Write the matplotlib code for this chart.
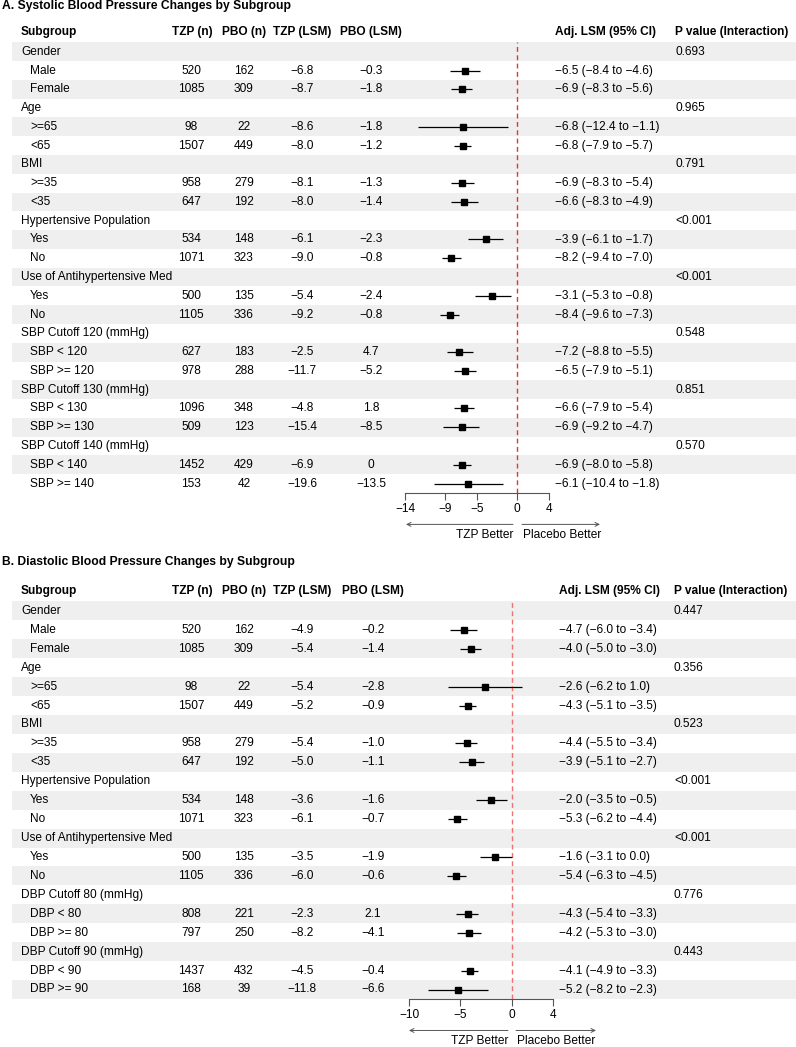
import matplotlib
matplotlib.use("Agg")
import matplotlib.pyplot as plt
from matplotlib.patches import Rectangle

plt.rcParams['font.family'] = ['Liberation Sans', 'DejaVu Sans']

M = "\u2212"

# ---------------- Panel A data ----------------
a_groups = ["Gender", "Age", "BMI", "Hypertensive Population", "Use of Antihypertensive Med",
            "SBP Cutoff 120 (mmHg)", "SBP Cutoff 130 (mmHg)", "SBP Cutoff 140 (mmHg)"]
a_pvals = ["0.693", "0.965", "0.791", "<0.001", "<0.001", "0.548", "0.851", "0.570"]
a_subs = ["Male", "Female", ">=65", "<65", ">=35", "<35", "Yes", "No", "Yes", "No",
          "SBP < 120", "SBP >= 120", "SBP < 130", "SBP >= 130", "SBP < 140", "SBP >= 140"]
a_tzp_n = [520, 1085, 98, 1507, 958, 647, 534, 1071, 500, 1105, 627, 978, 1096, 509, 1452, 153]
a_pbo_n = [162, 309, 22, 449, 279, 192, 148, 323, 135, 336, 183, 288, 348, 123, 429, 42]
a_tzp_lsm = ["−6.8", "−8.7", "−8.6", "−8.0", "−8.1", "−8.0", "−6.1", "−9.0", "−5.4", "−9.2",
             "−2.5", "−11.7", "−4.8", "−15.4", "−6.9", "−19.6"]
a_pbo_lsm = ["−0.3", "−1.8", "−1.8", "−1.2", "−1.3", "−1.4", "−2.3", "−0.8", "−2.4", "−0.8",
             "4.7", "−5.2", "1.8", "−8.5", "0", "−13.5"]
a_est = [-6.5, -6.9, -6.8, -6.8, -6.9, -6.6, -3.9, -8.2, -3.1, -8.4, -7.2, -6.5, -6.6, -6.9, -6.9, -6.1]
a_lo = [-8.4, -8.3, -12.4, -7.9, -8.3, -8.3, -6.1, -9.4, -5.3, -9.6, -8.8, -7.9, -7.9, -9.2, -8.0, -10.4]
a_hi = [-4.6, -5.6, -1.1, -5.7, -5.4, -4.9, -1.7, -7.0, -0.8, -7.3, -5.5, -5.1, -5.4, -4.7, -5.8, -1.8]
a_ticks = [-14, -9, -5, 0, 4]

# ---------------- Panel B data ----------------
b_groups = ["Gender", "Age", "BMI", "Hypertensive Population", "Use of Antihypertensive Med",
            "DBP Cutoff 80 (mmHg)", "DBP Cutoff 90 (mmHg)"]
b_pvals = ["0.447", "0.356", "0.523", "<0.001", "<0.001", "0.776", "0.443"]
b_subs = ["Male", "Female", ">=65", "<65", ">=35", "<35", "Yes", "No", "Yes", "No",
          "DBP < 80", "DBP >= 80", "DBP < 90", "DBP >= 90"]
b_tzp_n = [520, 1085, 98, 1507, 958, 647, 534, 1071, 500, 1105, 808, 797, 1437, 168]
b_pbo_n = [162, 309, 22, 449, 279, 192, 148, 323, 135, 336, 221, 250, 432, 39]
b_tzp_lsm = ["−4.9", "−5.4", "−5.4", "−5.2", "−5.4", "−5.0", "−3.6", "−6.1", "−3.5", "−6.0",
             "−2.3", "−8.2", "−4.5", "−11.8"]
b_pbo_lsm = ["−0.2", "−1.4", "−2.8", "−0.9", "−1.0", "−1.1", "−1.6", "−0.7", "−1.9", "−0.6",
             "2.1", "−4.1", "−0.4", "−6.6"]
b_est = [-4.7, -4.0, -2.6, -4.3, -4.4, -3.9, -2.0, -5.3, -1.6, -5.4, -4.3, -4.2, -4.1, -5.2]
b_lo = [-6.0, -5.0, -6.2, -5.1, -5.5, -5.1, -3.5, -6.2, -3.1, -6.3, -5.4, -5.3, -4.9, -8.2]
b_hi = [-3.4, -3.0, 1.0, -3.5, -3.4, -2.7, -0.5, -4.4, 0.0, -4.5, -3.3, -3.0, -3.3, -2.3]
b_ticks = [-10, -5, 0, 4]

W, H = 796, 1047
FS = 8.6
fig = plt.figure(figsize=(W / 100, H / 100), dpi=100)
bg = fig.add_axes([0, 0, 1, 1])
bg.set_xlim(0, W)
bg.set_ylim(H, 0)
bg.axis('off')


def fmt(v):
    s = f"{v:.1f}"
    return s.replace("-", M)


def panel(title, title_y, header_y, row0, step, groups, pvals, subs, tzp_n, pbo_n,
          tzp_lsm, pbo_lsm, est, lo, hi, ticks, xmin, xmax, fx0, fx1,
          pbo_x, ci_x, p_x, ref_color, arrow_l, arrow_r):
    bg.text(2, title_y, title, fontsize=8.7, fontweight='bold', ha='left', va='center')
    hk = dict(fontsize=FS, fontweight='bold', va='center')
    bg.text(21, header_y, "Subgroup", ha='left', **hk)
    bg.text(192, header_y, "TZP (n)", ha='center', **hk)
    bg.text(244, header_y, "PBO (n)", ha='center', **hk)
    bg.text(302.5, header_y, "TZP (LSM)", ha='center', **hk)
    bg.text(pbo_x, header_y, "PBO (LSM)", ha='center', **hk)
    bg.text(ci_x, header_y, "Adj. LSM (95% CI)", ha='left', **hk)
    bg.text(p_x, header_y, "P value (Interaction)", ha='left', **hk)

    # build rows
    rows = []
    si = 0
    for g, p in zip(groups, pvals):
        rows.append(("g", g, p))
        for _ in range(2):
            rows.append(("s", si))
            si += 1
    n = len(rows)
    tk = dict(fontsize=FS, va='center')
    fy, fe, flo, fhi = [], [], [], []
    for r, row in enumerate(rows):
        y = row0 + r * step
        if r % 2 == 0:
            bg.add_patch(Rectangle((12, y - step / 2), W - 12, step, facecolor='#efefef',
                                   edgecolor='none', zorder=0))
        if row[0] == "g":
            bg.text(21, y, row[1], ha='left', **tk)
            bg.text(p_x, y, row[2], ha='left', **tk)
        else:
            i = row[1]
            bg.text(30, y, subs[i], ha='left', **tk)
            bg.text(191, y, str(tzp_n[i]), ha='center', **tk)
            bg.text(244, y, str(pbo_n[i]), ha='center', **tk)
            bg.text(302, y, tzp_lsm[i], ha='center', **tk)
            bg.text(pbo_x, y, pbo_lsm[i], ha='center', **tk)
            bg.text(ci_x, y, f"{fmt(est[i])} ({fmt(lo[i])} to {fmt(hi[i])})", ha='left', **tk)
            fy.append(r)
            fe.append(est[i]); flo.append(lo[i]); fhi.append(hi[i])

    top = row0 - step / 2
    bottom = row0 + (n - 0.5) * step
    ax = fig.add_axes([fx0 / W, 1 - bottom / H, (fx1 - fx0) / W, (bottom - top) / H])
    ax.set_facecolor('none')
    ax.set_xlim(xmin, xmax)
    ax.set_ylim(n - 0.5, -0.5)
    for s in ['top', 'left', 'right']:
        ax.spines[s].set_visible(False)
    ax.spines['bottom'].set_color('#555555')
    ax.spines['bottom'].set_linewidth(0.8)
    ax.set_yticks([])
    ax.set_xticks(ticks)
    ax.tick_params(axis='x', direction='out', length=5, width=0.8, color='#555555',
                   labelsize=FS, pad=2, labelcolor='black')
    ax.axvline(0, color=ref_color, lw=1.0, dashes=(3.5, 2.5), zorder=1)
    ax.hlines(fy, flo, fhi, color='black', lw=0.9, zorder=2, clip_on=False)
    ax.plot(fe, fy, 's', color='black', ms=4.3, zorder=3, clip_on=False)

    # arrows
    ay = bottom + 31.5
    ty = bottom + 42
    ak = dict(arrowstyle='->', color='#555555', lw=0.7, shrinkA=0, shrinkB=0, mutation_scale=7)
    bg.annotate("", xy=(arrow_l[0], ay), xytext=(arrow_l[1], ay), arrowprops=ak)
    bg.annotate("", xy=(arrow_r[1], ay), xytext=(arrow_r[0], ay), arrowprops=ak)
    bg.text(arrow_l[1], ty, "TZP Better", ha='right', va='center', fontsize=FS)
    bg.text(arrow_r[0] + 1, ty, "Placebo Better", ha='left', va='center', fontsize=FS)


panel("A. Systolic Blood Pressure Changes by Subgroup", 6.5, 32.3, 51.8, 18.77,
      a_groups, a_pvals, a_subs, a_tzp_n, a_pbo_n, a_tzp_lsm, a_pbo_lsm,
      a_est, a_lo, a_hi, a_ticks, -14, 4, 405, 549,
      371, 555, 675, '#e8332f', (406, 513), (522, 600))

panel("B. Diastolic Blood Pressure Changes by Subgroup", 562, 591, 610.9, 18.93,
      b_groups, b_pvals, b_subs, b_tzp_n, b_pbo_n, b_tzp_lsm, b_pbo_lsm,
      b_est, b_lo, b_hi, b_ticks, -10, 4, 409, 553,
      373, 559, 674, '#f07373', (409, 508), (516, 596))

fig.savefig("out.png", dpi=100)
